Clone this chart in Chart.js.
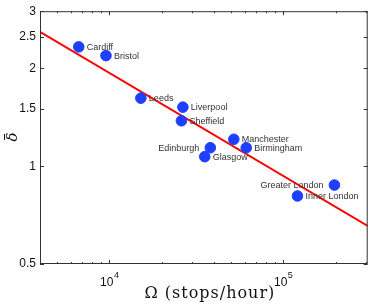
<!DOCTYPE html>
<html>
<head>
<meta charset="utf-8">
<script src="https://cdn.jsdelivr.net/npm/chart.js@4/dist/chart.umd.min.js"></script>
<style>
  html, body { margin: 0; padding: 0; background: #fff; }
  #chart { display: block; }
</style>
</head>
<body>
<canvas id="chart" width="374" height="306"></canvas>
<script>
// city values
const cities = ["Cardiff", "Bristol", "Leeds", "Liverpool", "Sheffield", "Manchester",
    "Birmingham", "Edinburgh", "Glasgow", "Greater London", "Inner London"];
const stopsPerHour = [6680, 9580, 15200, 26500, 26000, 52000, 61300, 38100, 35400, 197000, 120800];
const deltaBar = [2.33, 2.19, 1.62, 1.52, 1.38, 1.21, 1.14, 1.14, 1.07, 0.875, 0.81];

// fitted power law, end points
const fitX = [4000, 306000];
const fitY = [2.59, 0.655];

const yTicks = [0.5, 1, 1.5, 2, 2.5, 3];
const xMajor = [1e4, 1e5];
const xMinor = [5e3, 6e3, 7e3, 8e3, 9e3, 2e4, 3e4, 4e4, 5e4, 6e4, 7e4, 8e4, 9e4, 2e5, 3e5];

const LEFT_LABELS = ["Greater London", "Edinburgh"];

const framePlugin = {
    id: "frame",
    afterDraw(chart) {
        const ctx = chart.ctx;
        const { left, right, top, bottom } = chart.chartArea;
        const xs = chart.scales.x;
        const ys = chart.scales.y;
        ctx.save();
        ctx.strokeStyle = "#333";
        ctx.lineWidth = 1;
        ctx.strokeRect(left + 0.5, top + 0.5, right - left - 1, bottom - top - 1);

        ctx.beginPath();
        const tick = (v, len) => {
            const px = Math.round(xs.getPixelForValue(v)) + 0.5;
            ctx.moveTo(px, bottom); ctx.lineTo(px, bottom - len);
            ctx.moveTo(px, top); ctx.lineTo(px, top + len);
        };
        xMajor.forEach((v) => tick(v, 4));
        xMinor.forEach((v) => tick(v, 2));
        yTicks.forEach((v) => {
            const py = Math.round(ys.getPixelForValue(v)) + 0.5;
            ctx.moveTo(left, py); ctx.lineTo(left + 4, py);
            ctx.moveTo(right, py); ctx.lineTo(right - 4, py);
        });
        ctx.stroke();

        // x tick labels with superscript exponents
        ctx.fillStyle = "#111";
        ctx.textBaseline = "alphabetic";
        xMajor.forEach((v) => {
            const px = xs.getPixelForValue(v);
            const exp = String(Math.round(Math.log10(v)));
            ctx.font = "12px 'Liberation Sans', Arial, sans-serif";
            const w1 = ctx.measureText("10").width;
            ctx.font = "9px 'Liberation Sans', Arial, sans-serif";
            const w2 = ctx.measureText(exp).width;
            const x0 = px - (w1 + w2) / 2;
            ctx.font = "12px 'Liberation Sans', Arial, sans-serif";
            ctx.textAlign = "left";
            ctx.fillText("10", x0, bottom + 22);
            ctx.font = "9px 'Liberation Sans', Arial, sans-serif";
            ctx.fillText(exp, x0 + w1 + 0.5, bottom + 14);
        });

        // axis titles
        ctx.font = "16px 'DejaVu Serif', serif";
        ctx.letterSpacing = "1px";
        ctx.textAlign = "center";
        ctx.fillText("Ω (stops/hour)", (left + right) / 2 + 6, bottom + 34);
        ctx.letterSpacing = "0px";
        ctx.save();
        ctx.translate(17, 137);
        ctx.rotate(-Math.PI / 2);
        ctx.font = "italic 15px 'DejaVu Serif', serif";
        ctx.fillText("δ", 0, 0);
        ctx.fillRect(-3, -13, 6, 1);
        ctx.restore();

        // city labels
        ctx.font = "9px 'Liberation Sans', Arial, sans-serif";
        ctx.fillStyle = "#333";
        ctx.textBaseline = "middle";
        chart.getDatasetMeta(1).data.forEach((pt, i) => {
            const name = cities[i];
            if (LEFT_LABELS.includes(name)) {
                ctx.textAlign = "right";
                ctx.fillText(name, pt.x - 11, pt.y + 0.5);
            } else {
                ctx.textAlign = "left";
                ctx.fillText(name, pt.x + 8, pt.y + 0.5);
            }
        });
        ctx.restore();
    },
};

new Chart(document.getElementById("chart"), {
    type: "scatter",
    data: {
        datasets: [
            {
                type: "line",
                data: fitX.map((x, i) => ({ x, y: fitY[i] })),
                borderColor: "#ff0000",
                borderWidth: 2,
                pointRadius: 0,
                fill: false,
                order: 2,
            },
            {
                data: stopsPerHour.map((x, i) => ({ x, y: deltaBar[i] })),
                backgroundColor: "#1f3fff",
                borderColor: "#1f3fff",
                pointRadius: 5.3,
                order: 1,
            },
        ],
    },
    options: {
        responsive: false,
        animation: false,
        layout: { padding: { top: 9, right: 4, left: 0, bottom: 0 } },
        plugins: { legend: { display: false }, tooltip: { enabled: false } },
        scales: {
            x: {
                type: "logarithmic",
                min: 4000,
                max: 306000,
                grid: { display: false, drawTicks: false },
                border: { display: false },
                ticks: { display: false },
                afterFit: (s) => { s.height = 42; },
            },
            y: {
                type: "logarithmic",
                min: 0.5,
                max: 3,
                grid: { display: false, drawTicks: false },
                border: { display: false },
                afterBuildTicks: (s) => { s.ticks = yTicks.map((v) => ({ value: v })); },
                ticks: {
                    padding: 4,
                    color: "#111",
                    font: { family: "'Liberation Sans', Arial, sans-serif", size: 12 },
                    callback: (v) => String(v),
                },
                afterFit: (s) => { s.width = 40; },
            },
        },
    },
    plugins: [framePlugin],
});
</script>
</body>
</html>
